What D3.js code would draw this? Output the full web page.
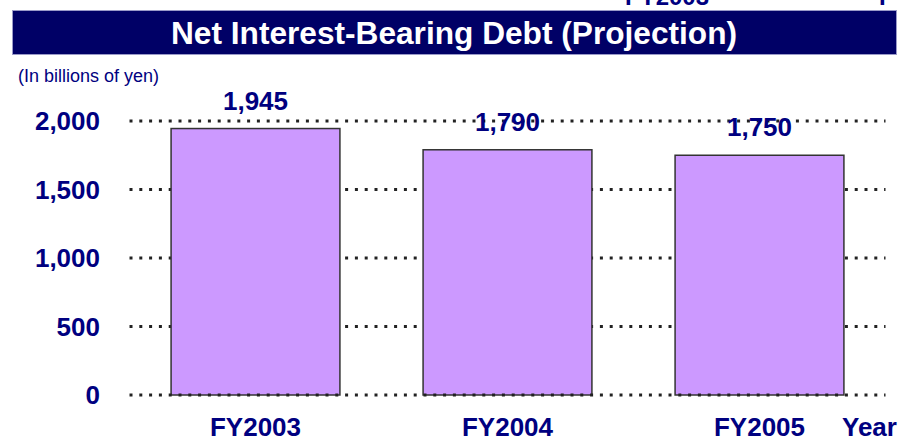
<!DOCTYPE html>
<html>
<head>
<meta charset="utf-8">
<script src="https://cdn.jsdelivr.net/npm/d3@7"></script>
<style>
  body { margin: 0; background: #fff; }
  text { font-family: "Liberation Sans", Arial, sans-serif; }
</style>
</head>
<body>
<div id="chart"></div>
<script>
const [WIDTH, HEIGHT] = [901, 441]
const NAVY = '#000080'

const categories = ['FY2003', 'FY2004', 'FY2005']
const debtValues = [1945, 1790, 1750]
const yTicks = [0, 500, 1000, 1500, 2000]
const tickLabels = ['0', '500', '1,000', '1,500', '2,000']
const valueLabels = ['1,945', '1,790', '1,750']

const svg = d3.select('#chart').append('svg')
    .attr('width', WIDTH)
    .attr('height', HEIGHT)
    .attr('viewBox', [0, 0, WIDTH, HEIGHT])

// leftover text from the slide above, cut off by the top edge
svg.append('text')
    .attr('x', 625).attr('y', 5)
    .attr('fill', NAVY).attr('font-weight', 'bold').attr('font-size', 24)
    .text('FY2003')
svg.append('text')
    .attr('x', 879).attr('y', 5)
    .attr('fill', NAVY).attr('font-weight', 'bold').attr('font-size', 24)
    .text('F')

// title band
svg.append('rect')
    .attr('x', 12.5).attr('y', 10.5)
    .attr('width', 884).attr('height', 44)
    .attr('fill', '#000066')
    .attr('stroke', '#9a9ac8')
    .attr('stroke-width', 1)
svg.append('text')
    .attr('x', 454).attr('y', 44)
    .attr('text-anchor', 'middle')
    .attr('fill', '#fff').attr('font-weight', 'bold').attr('font-size', 31)
    .attr('textLength', 566).attr('lengthAdjust', 'spacingAndGlyphs')
    .text('Net Interest-Bearing Debt (Projection)')

svg.append('text')
    .attr('x', 18).attr('y', 82)
    .attr('fill', NAVY).attr('font-size', 18)
    .text('(In billions of yen)')

const x = d3.scaleBand(categories, [129.5, 885.5])
    .paddingInner(0.33)
    .paddingOuter(0.165)
const y = d3.scaleLinear([0, 2000], [395, 121])

// dotted gridlines (zero line goes on top of the bars later)
const grid = svg.append('g')
    .attr('stroke', '#222')
    .attr('stroke-width', 3)
    .attr('stroke-dasharray', '3,6.8')
grid.selectAll('line')
    .data(yTicks.filter(d => d > 0))
    .join('line')
    .attr('x1', x.range()[0]).attr('x2', x.range()[1])
    .attr('y1', d => y(d)).attr('y2', d => y(d))

// y tick labels
svg.append('g')
    .selectAll('text')
    .data(yTicks)
    .join('text')
    .attr('x', 100)
    .attr('y', d => y(d))
    .attr('dy', '0.36em')
    .attr('text-anchor', 'end')
    .attr('fill', NAVY).attr('font-weight', 'bold').attr('font-size', 26)
    .text((d, i) => tickLabels[i])

const data = categories.map((c, i) => ({ cat: c, value: debtValues[i], label: valueLabels[i] }))

svg.append('g')
    .selectAll('rect')
    .data(data)
    .join('rect')
    .attr('x', d => x(d.cat))
    .attr('y', d => y(d.value))
    .attr('width', x.bandwidth())
    .attr('height', d => y(0) - y(d.value))
    .attr('fill', '#cc99ff')
    .attr('stroke', '#333')
    .attr('stroke-width', 1.5)

svg.append('line')
    .attr('x1', x.range()[0]).attr('x2', x.range()[1])
    .attr('y1', y(0)).attr('y2', y(0))
    .attr('stroke', '#222')
    .attr('stroke-width', 3)
    .attr('stroke-dasharray', '3,6.8')

// value labels above bars
svg.append('g')
    .selectAll('text')
    .data(data)
    .join('text')
    .attr('x', d => x(d.cat) + x.bandwidth() / 2)
    .attr('y', d => y(d.value) - 19)
    .attr('text-anchor', 'middle')
    .attr('fill', NAVY).attr('font-weight', 'bold').attr('font-size', 26)
    .text(d => d.label)

// category labels
svg.append('g')
    .selectAll('text')
    .data(categories)
    .join('text')
    .attr('x', d => x(d) + x.bandwidth() / 2)
    .attr('y', 436)
    .attr('text-anchor', 'middle')
    .attr('fill', NAVY).attr('font-weight', 'bold').attr('font-size', 26)
    .text(d => d)

svg.append('text')
    .attr('x', 842).attr('y', 436)
    .attr('fill', NAVY).attr('font-weight', 'bold').attr('font-size', 26)
    .text('Year')
</script>
</body>
</html>
